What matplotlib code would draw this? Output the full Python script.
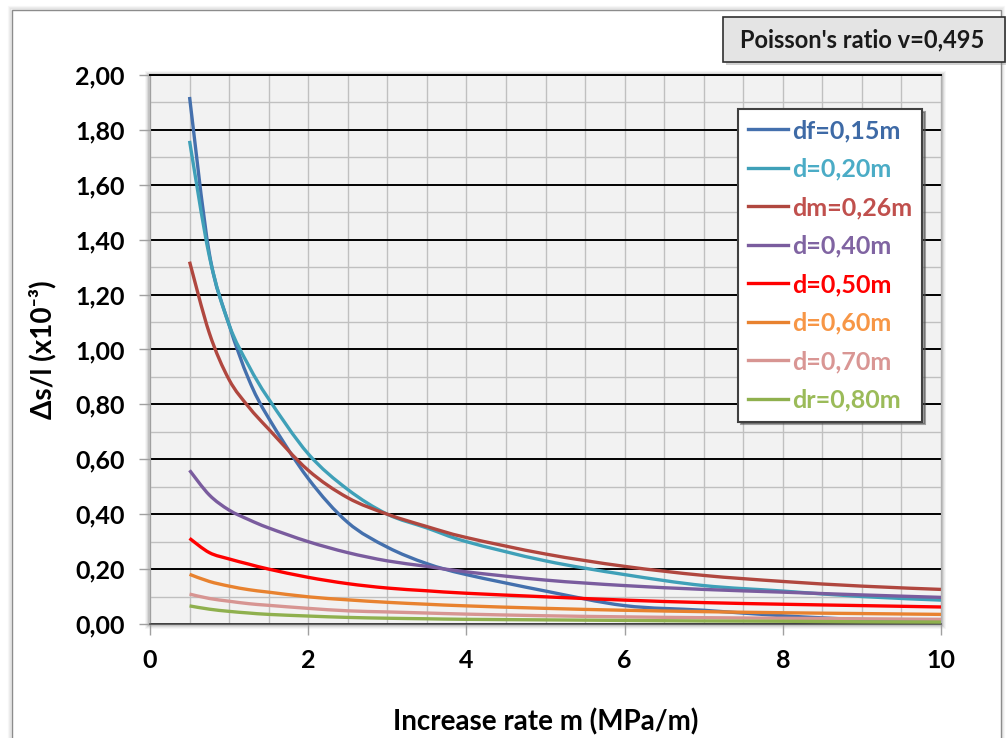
import matplotlib
matplotlib.use('Agg')
import matplotlib.pyplot as plt
from matplotlib.patches import Rectangle, PathPatch
from matplotlib.path import Path
from matplotlib.lines import Line2D
from matplotlib.ticker import MultipleLocator, FuncFormatter

W, H = 1006, 738

# increase rate m (MPa/m)
m = [0.5, 0.75, 1.0, 1.25, 1.5, 2, 2.5, 3, 3.5, 4, 5, 6, 7, 8, 9, 10]

df_015 = [1.92, 1.35, 1.09, 0.89, 0.75, 0.53, 0.37, 0.28, 0.22, 0.18, 0.12, 0.067, 0.05, 0.03, 0.016, 0.009]
d_020 = [1.76, 1.34, 1.09, 0.94, 0.82, 0.62, 0.49, 0.40, 0.35, 0.30, 0.23, 0.18, 0.14, 0.12, 0.10, 0.087]
dm_026 = [1.32, 1.06, 0.89, 0.79, 0.71, 0.56, 0.46, 0.40, 0.355, 0.315, 0.255, 0.21, 0.177, 0.155, 0.138, 0.126]
d_040 = [0.56, 0.47, 0.415, 0.38, 0.35, 0.30, 0.26, 0.23, 0.21, 0.19, 0.16, 0.14, 0.126, 0.116, 0.106, 0.097]
d_050 = [0.312, 0.26, 0.237, 0.218, 0.20, 0.17, 0.147, 0.131, 0.121, 0.112, 0.099, 0.087, 0.078, 0.072, 0.067, 0.062]
d_060 = [0.181, 0.155, 0.138, 0.125, 0.116, 0.099, 0.088, 0.079, 0.072, 0.066, 0.057, 0.05, 0.045, 0.041, 0.038, 0.035]
d_070 = [0.109, 0.093, 0.083, 0.074, 0.068, 0.057, 0.048, 0.044, 0.040, 0.036, 0.030, 0.026, 0.023, 0.021, 0.019, 0.017]
dr_080 = [0.066, 0.054, 0.046, 0.040, 0.035, 0.029, 0.024, 0.021, 0.019, 0.017, 0.015, 0.013, 0.011, 0.010, 0.008, 0.007]

series = [df_015, d_020, dm_026, d_040, d_050, d_060, d_070, dr_080]
labels = ['df=0,15m', 'd=0,20m', 'dm=0,26m', 'd=0,40m', 'd=0,50m', 'd=0,60m', 'd=0,70m', 'dr=0,80m']
line_colors = ['#4470ad', '#3fa0b8', '#b0473f', '#7a5c9e', '#ff0000', '#e8822f', '#d79592', '#8fb04e']
text_colors = ['#3e6aa6', '#4bacc6', '#c0504d', '#8064a2', '#ff0000', '#f79646', '#d99694', '#9bbb59']

FONT = ['Lato', 'DejaVu Sans']
plt.rcParams['font.family'] = FONT
plt.rcParams['font.weight'] = 'bold'


def px_rect(x0, y0, x1, y1, **kw):
    # rectangle given in image pixels (top-left origin)
    return Rectangle((x0 / W, 1 - y1 / H), (x1 - x0) / W, (y1 - y0) / H,
                     transform=fig.transFigure, **kw)


def smooth_path(xs, ys):
    # Excel-style smoothed line: cubic Bezier segments through the data points
    verts = [(xs[0], ys[0])]
    codes = [Path.MOVETO]
    n = len(xs)
    for i in range(n - 1):
        x0, y0 = xs[max(i - 1, 0)], ys[max(i - 1, 0)]
        x1, y1 = xs[i], ys[i]
        x2, y2 = xs[i + 1], ys[i + 1]
        x3, y3 = xs[min(i + 2, n - 1)], ys[min(i + 2, n - 1)]
        c1 = (x1 + (x2 - x0) / 6, y1 + (y2 - y0) / 6)
        c2 = (x2 - (x3 - x1) / 6, y2 - (y3 - y1) / 6)
        verts += [c1, c2, (x2, y2)]
        codes += [Path.CURVE4] * 3
    return Path(verts, codes)


fig = plt.figure(figsize=(W / 100, H / 100), dpi=100)
fig.patch.set_facecolor('white')

# outer chart frame with soft shadow
for i, a in enumerate([0.06, 0.08, 0.12]):
    d = 3 - i
    fig.patches.append(px_rect(12 - d, 10 - d, 1001 + d, 760, facecolor='none',
                               edgecolor='#7f7f7f', lw=1.5, alpha=a, zorder=0))
fig.patches.append(px_rect(12, 10, 1001, 760, facecolor='none', edgecolor='#8c8c8c', lw=1, zorder=0))

# plot-area shadow
ax_l, ax_r, ax_t, ax_b = 150, 941, 75, 624
for i, a in enumerate([0.05, 0.08, 0.12, 0.18]):
    d = 5 - i
    fig.patches.append(px_rect(ax_l - d, ax_t - d + 1, ax_r + d, ax_b + d,
                               facecolor='#606060', edgecolor='none', alpha=a, zorder=0))

ax = fig.add_axes([ax_l / W, 1 - ax_b / H, (ax_r - ax_l) / W, (ax_b - ax_t) / H])
ax.set_zorder(2)
ax.set_facecolor('#f2f2f2')

for y, c in zip(series, line_colors):
    ax.add_patch(PathPatch(smooth_path(m, y), facecolor='none', edgecolor=c, lw=2.4,
                           capstyle='butt', joinstyle='round', zorder=3))

ax.set_xlim(0, 10)
ax.set_ylim(0, 2)
ax.xaxis.set_major_locator(MultipleLocator(2))
ax.xaxis.set_minor_locator(MultipleLocator(0.5))
ax.yaxis.set_major_locator(MultipleLocator(0.2))
ax.yaxis.set_minor_locator(MultipleLocator(0.1))
ax.yaxis.set_major_formatter(FuncFormatter(lambda v, p: f'{v:.2f}'.replace('.', ',')))
ax.xaxis.set_major_formatter(FuncFormatter(lambda v, p: f'{v:.0f}'))

ax.grid(True, which='both', axis='x', color='#c0c0c0', lw=1)
ax.grid(True, which='minor', axis='y', color='#c0c0c0', lw=1)
ax.grid(True, which='major', axis='y', color='black', lw=1.4)
ax.set_axisbelow(True)

ax.tick_params(axis='both', which='minor', length=0)
ax.tick_params(axis='x', which='major', length=8, width=1, color='#a0a0a0', pad=10,
               labelsize=18)
ax.tick_params(axis='y', which='major', length=8, width=1, color='#a0a0a0', pad=10,
               labelsize=18)

ax.spines['top'].set_color('black')
ax.spines['top'].set_linewidth(1.4)
ax.spines['bottom'].set_color('#505050')
ax.spines['bottom'].set_linewidth(1.2)
ax.spines['left'].set_color('#a0a0a0')
ax.spines['right'].set_color('#b0b0b0')

ax.set_xlabel('Increase rate m (MPa/m)', fontsize=20, fontweight='bold', labelpad=26)
ax.set_ylabel('Δs/l (x10⁻³)', fontsize=20, fontweight='bold', labelpad=14)

handles = [Line2D([], [], color=c, lw=2.4) for c in line_colors]
leg = ax.legend(handles, labels, loc='upper left',
                bbox_to_anchor=((738 - ax_l) / (ax_r - ax_l), (ax_b - 109) / (ax_b - ax_t)),
                borderaxespad=0, fontsize=18, handlelength=1.6, handletextpad=0.15,
                labelspacing=0.62, borderpad=0.4, fancybox=False, shadow=True,
                framealpha=1, labelcolor=text_colors)
leg.get_frame().set_edgecolor('#404040')
leg.get_frame().set_linewidth(1.5)
for t in leg.get_texts():
    t.set_fontweight('bold')

# Poisson's ratio box
fig.patches.append(px_rect(726, 20, 1008, 65, facecolor='#808080', edgecolor='none', alpha=0.35))
fig.patches.append(px_rect(723, 17, 1005, 62, facecolor='#e4e4e4', edgecolor='#303030', lw=1.2))
fig.text(862 / W, 1 - 40 / H, "Poisson's ratio v=0,495", ha='center', va='center',
         fontsize=17, fontweight='bold', color='#1a1a1a')

fig.savefig('out.png', dpi=100)
